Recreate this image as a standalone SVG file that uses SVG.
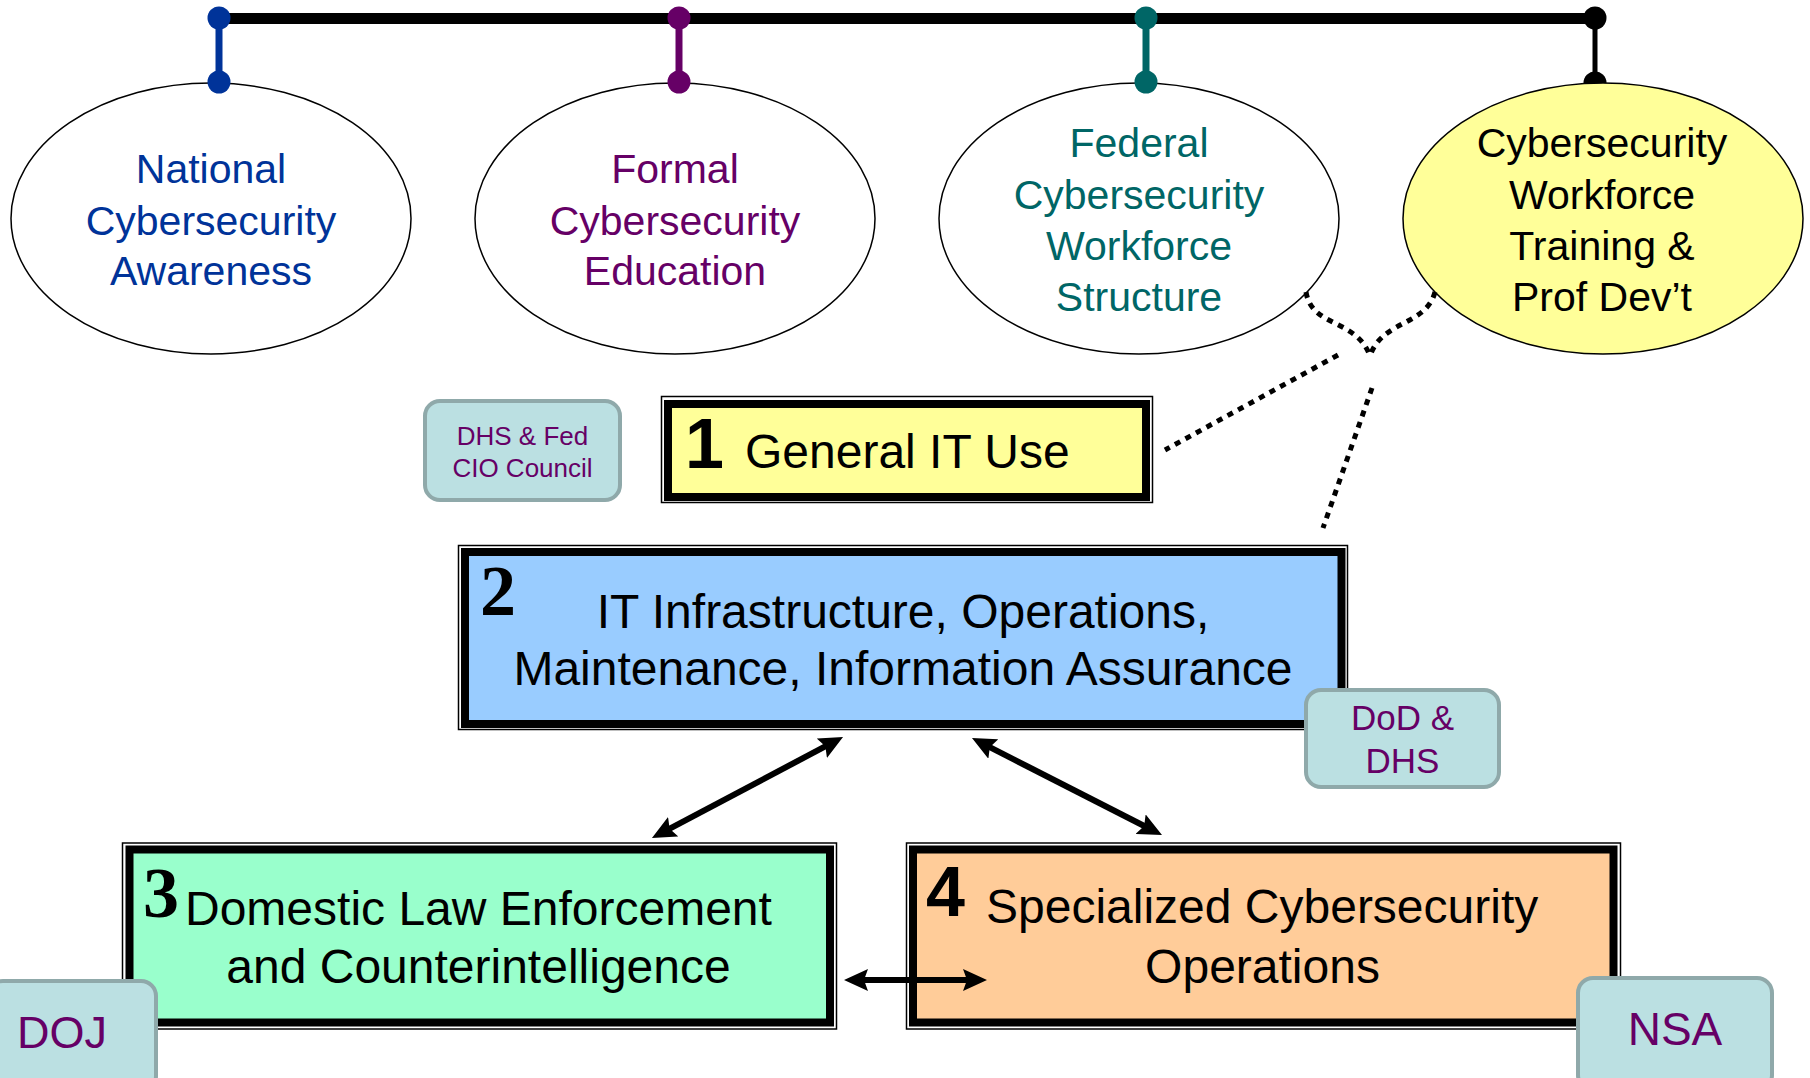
<svg xmlns="http://www.w3.org/2000/svg" width="1810" height="1078" viewBox="0 0 1810 1078">
  <style>
    text { font-family: "Liberation Sans", Arial, sans-serif; }
    .oval { stroke: #000; stroke-width: 1.5; }
    .oval-txt { font-size: 41px; text-anchor: middle; }
    .frame-out { fill: #fff; stroke: #000; stroke-width: 1.5; }
    .frame-in { stroke: #000; stroke-width: 8; }
    .box-txt { font-size: 48px; fill: #000; }
    .num-sans { font-family: "Liberation Sans", Arial, sans-serif; font-weight: bold; font-size: 70px; }
    .num-serif { font-family: "Liberation Serif", "Times New Roman", serif; font-weight: bold; font-size: 72px; }
    .tag { fill: #BBE0E2; stroke: #8FA9AA; stroke-width: 4; }
    .tag-txt { fill: #660066; text-anchor: middle; }
    .dotted { fill: none; stroke: #000; stroke-width: 5; stroke-dasharray: 6 6; }
    .arrow { stroke: #000; stroke-width: 6; fill: none; marker-start: url(#head); marker-end: url(#head); }
  </style>
  <defs>
    <marker id="head" viewBox="0 0 24 22" markerWidth="24" markerHeight="22" refX="14" refY="11" markerUnits="userSpaceOnUse" orient="auto-start-reverse">
      <path d="M0,0 L24,11 L0,22 L4,11 z" fill="#000"/>
    </marker>
  </defs>

  <rect width="1810" height="1078" fill="#fff"/>

  <!-- top rail and drops -->
  <g id="rail">
    <line x1="219" y1="18.5" x2="1595" y2="18.5" stroke="#000" stroke-width="11"/>
    <line x1="219" y1="18" x2="219" y2="82" stroke="#003399" stroke-width="7"/>
    <line x1="679" y1="18" x2="679" y2="82" stroke="#660066" stroke-width="7"/>
    <line x1="1146" y1="18" x2="1146" y2="82" stroke="#006666" stroke-width="7"/>
    <line x1="1595" y1="18" x2="1595" y2="82" stroke="#000" stroke-width="5"/>
    <circle cx="219" cy="18" r="11.5" fill="#003399"/>
    <circle cx="679" cy="18" r="11.5" fill="#660066"/>
    <circle cx="1146" cy="18" r="11.5" fill="#006666"/>
    <circle cx="1595" cy="18" r="11.5" fill="#000"/>
    <circle cx="1595" cy="83" r="11.5" fill="#000"/>
  </g>

  <g id="awareness">
    <ellipse class="oval" cx="211" cy="218.5" rx="200" ry="135.5" fill="#fff"/>
    <circle cx="219" cy="82" r="11.5" fill="#003399"/>
    <text class="oval-txt" fill="#003399"><tspan x="211" y="183">National</tspan><tspan x="211" y="235">Cybersecurity</tspan><tspan x="211" y="285">Awareness</tspan></text>
  </g>

  <g id="education">
    <ellipse class="oval" cx="675" cy="218.5" rx="200" ry="135.5" fill="#fff"/>
    <circle cx="679" cy="82" r="11.5" fill="#660066"/>
    <text class="oval-txt" fill="#660066"><tspan x="675" y="183">Formal</tspan><tspan x="675" y="235">Cybersecurity</tspan><tspan x="675" y="285">Education</tspan></text>
  </g>

  <g id="structure">
    <ellipse class="oval" cx="1139" cy="218.5" rx="200" ry="135.5" fill="#fff"/>
    <circle cx="1146" cy="82" r="11.5" fill="#006666"/>
    <text class="oval-txt" fill="#006666"><tspan x="1139" y="157">Federal</tspan><tspan x="1139" y="209">Cybersecurity</tspan><tspan x="1139" y="260">Workforce</tspan><tspan x="1139" y="311">Structure</tspan></text>
  </g>

  <g id="training">
    <ellipse class="oval" cx="1603" cy="218.5" rx="200" ry="135.5" fill="#FFFF99"/>
    <text class="oval-txt" fill="#000"><tspan x="1602" y="157">Cybersecurity</tspan><tspan x="1602" y="209">Workforce</tspan><tspan x="1602" y="260">Training &amp;</tspan><tspan x="1602" y="311">Prof Dev’t</tspan></text>
  </g>

  <g id="general-it">
    <rect class="frame-out" x="661.5" y="396.5" width="491" height="106"/>
    <rect class="frame-in" x="668" y="404" width="478" height="93" fill="#FFFF99"/>
    <text class="num-sans" x="685" y="468">1</text>
    <text class="box-txt" x="745" y="468">General IT Use</text>
  </g>

  <g id="dhs-cio">
    <rect class="tag" x="425" y="401" width="195" height="99" rx="15"/>
    <text class="tag-txt" font-size="26"><tspan x="522.5" y="445">DHS &amp; Fed</tspan><tspan x="522.5" y="477">CIO Council</tspan></text>
  </g>

  <g id="infrastructure">
    <rect class="frame-out" x="458.5" y="545.5" width="889" height="184"/>
    <rect class="frame-in" x="465" y="552" width="876.5" height="172" fill="#99CCFF"/>
    <text class="num-serif" x="480" y="615">2</text>
    <text class="box-txt" text-anchor="middle"><tspan x="903" y="628">IT Infrastructure, Operations,</tspan><tspan x="903" y="685">Maintenance, Information Assurance</tspan></text>
  </g>

  <g id="dod-dhs">
    <rect class="tag" x="1306" y="690" width="193" height="97" rx="15"/>
    <text class="tag-txt" font-size="35"><tspan x="1402.5" y="730">DoD &amp;</tspan><tspan x="1402.5" y="773">DHS</tspan></text>
  </g>

  <g id="law-enforcement">
    <rect class="frame-out" x="122.5" y="843" width="714" height="186"/>
    <rect class="frame-in" x="129.5" y="849.5" width="700.5" height="173" fill="#99FFCC"/>
    <text class="num-serif" x="143" y="917">3</text>
    <text class="box-txt"><tspan x="185" y="925">Domestic Law Enforcement</tspan><tspan x="478.5" y="983" text-anchor="middle">and Counterintelligence</tspan></text>
  </g>

  <g id="specialized-ops">
    <rect class="frame-out" x="906.5" y="843" width="714" height="186"/>
    <rect class="frame-in" x="913" y="849.5" width="700.5" height="173" fill="#FFCC99"/>
    <text class="num-sans" x="926" y="916">4</text>
    <text class="box-txt"><tspan x="986" y="923">Specialized Cybersecurity</tspan><tspan x="1262.5" y="983" text-anchor="middle">Operations</tspan></text>
  </g>

  <!-- connectors, drawn over the boxes -->
  <g id="connectors">
    <path class="dotted" d="M1306,292 C1312,328 1356,318 1370,356"/>
    <path class="dotted" d="M1435,292 C1426,326 1382,320 1370,356"/>
    <path class="dotted" d="M1338,355 L1165,450"/>
    <path class="dotted" d="M1372,388 L1323,528"/>
    <line class="arrow" x1="660.8" y1="833.3" x2="834.2" y2="741.7"/>
    <line class="arrow" x1="980.9" y1="742.6" x2="1153.1" y2="830.5"/>
    <line class="arrow" x1="854" y1="980" x2="977" y2="980"/>
  </g>

  <g id="doj">
    <rect class="tag" x="-12" y="981" width="168" height="110" rx="15"/>
    <text class="tag-txt" font-size="45" x="62" y="1048">DOJ</text>
  </g>

  <g id="nsa">
    <rect class="tag" x="1578" y="978" width="194" height="112" rx="15"/>
    <text class="tag-txt" font-size="46" x="1675" y="1045">NSA</text>
  </g>
</svg>
